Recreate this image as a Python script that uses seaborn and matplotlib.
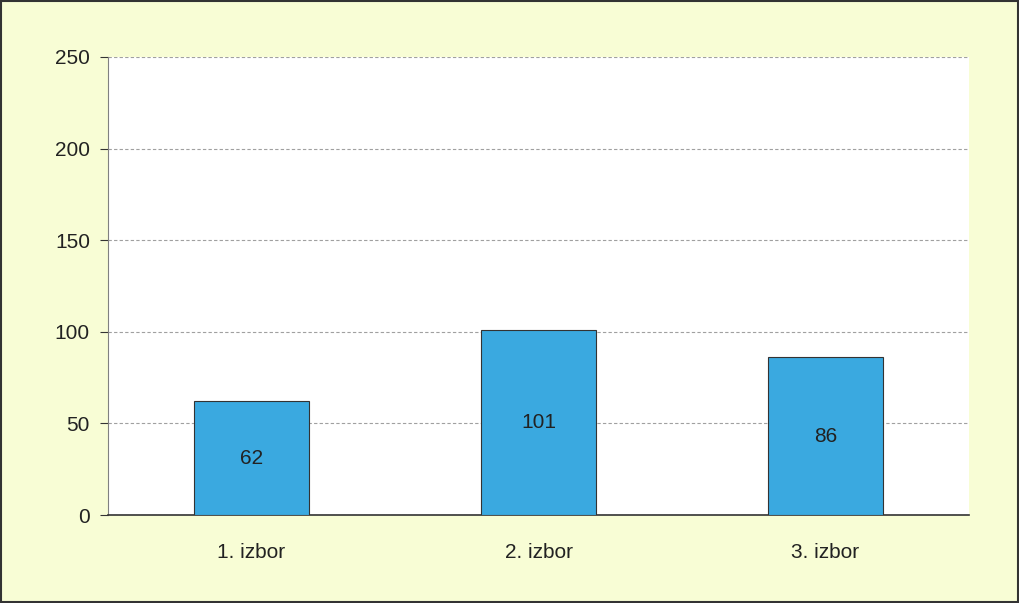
# Bar chart of first/second/third choice counts ("izbor")

import matplotlib.pyplot as plt
import pandas as pd
import seaborn as sns

# ---------------------------------------------------------------------------
# Data
# ---------------------------------------------------------------------------

categories = ["1. izbor", "2. izbor", "3. izbor"]
counts = [62, 101, 86]
y_ticks = [0, 50, 100, 150, 200, 250]

df = pd.DataFrame({"izbor": categories, "broj": counts})

# ---------------------------------------------------------------------------
# Figure
# ---------------------------------------------------------------------------

sns.set_style("white")
plt.rcParams["font.family"] = ["Liberation Sans", "DejaVu Sans"]

bg = "#F8FDD5"
fig = plt.figure(figsize=(10.2, 6.03), dpi=100, facecolor=bg)
ax = fig.add_axes([0.1059, 0.1459, 0.8441, 0.7596])
ax.set_facecolor("white")

sns.barplot(data=df, x="izbor", y="broj", color="#3AA9E0", width=0.4,
            edgecolor="#333333", linewidth=0.8, saturation=1, ax=ax, zorder=3)

# value labels in the middle of each bar
for container in ax.containers:
    ax.bar_label(container, label_type="center", fontsize=15, color="#222222")

# dashed horizontal grid
ax.set_ylim(0, 250)
ax.set_yticks(y_ticks)
ax.set_xlim(-0.5, 2.5)
ax.yaxis.grid(True, linestyle=(0, (3, 2)), color="#A0A0A0", linewidth=0.8, zorder=0)
ax.set_axisbelow(True)

ax.set_xlabel("")
ax.set_ylabel("")

for side in ["top", "right"]:
    ax.spines[side].set_visible(False)
ax.spines["left"].set_color("#808080")
ax.spines["bottom"].set_color("#333333")
ax.spines["bottom"].set_linewidth(1.2)

ax.tick_params(axis="y", which="major", left=True, length=6, color="#333333",
               labelsize=15, labelcolor="#222222", pad=7)
ax.tick_params(axis="x", which="major", bottom=False, labelsize=15,
               labelcolor="#222222", pad=17)

# outer frame around the whole figure
frame = plt.Rectangle((0.001, 0.001), 0.997, 0.997, transform=fig.transFigure,
                      fill=False, edgecolor="#333333", linewidth=1.5)
fig.patches.append(frame)

fig.savefig("out.png", dpi=100, facecolor=bg)
